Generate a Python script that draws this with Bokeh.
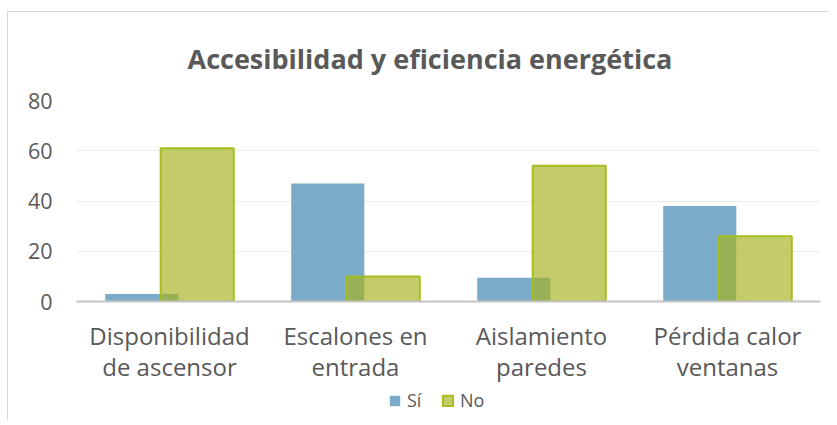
from bokeh.plotting import figure
from bokeh.layouts import column
from bokeh.models import FactorRange, Range1d, Legend, LegendItem, FixedTicker, Label
from bokeh.transform import dodge
from bokeh.embed import file_html
from bokeh.resources import INLINE

categories = ["Disponibilidad de ascensor", "Escalones en entrada", "Aislamiento paredes", "Pérdida calor ventanas"]
label_lines = ["Disponibilidad\nde ascensor", "Escalones en\nentrada", "Aislamiento\nparedes", "Pérdida calor\nventanas"]
si = [3, 47, 9.5, 38]
no = [61, 10, 54, 26]
y_ticks = [0, 20, 40, 60, 80]
series_names = ["Sí", "No"]
title_text = "Accesibilidad y eficiencia energética"

FONT = "Open Sans"
TXT = "#595959"
BLUE = "#7AABC8"
GREEN = "#A6B421"
GREEN_LINE = "#A5BE1E"


def strip(h):
    f = figure(width=829, height=h, x_range=Range1d(0, 1), y_range=Range1d(0, 1),
               output_backend="svg", toolbar_location=None,
               min_border_left=0, min_border_right=0, min_border_top=0, min_border_bottom=0)
    f.axis.visible = False
    f.grid.grid_line_color = None
    f.outline_line_color = None
    f.background_fill_alpha = 0
    f.border_fill_alpha = 0
    return f


# title strip
tf = strip(85)
tf.add_layout(Label(x=111, y=27, x_units="screen", y_units="screen", text=title_text,
                    text_font=FONT, text_font_size="27px", text_font_style="bold",
                    text_color=TXT, text_align="left", text_baseline="alphabetic"))

# main chart
p = figure(x_range=FactorRange(factors=label_lines), y_range=Range1d(0, 80),
           width=829, height=300, output_backend="svg", toolbar_location=None,
           min_border_left=76, min_border_right=9, min_border_top=15, min_border_bottom=82)

src = dict(cat=label_lines, name=categories, si=si, no=no)
p.vbar(x=dodge("cat", -0.149, range=p.x_range), top="si", width=0.393, source=src,
       fill_color=BLUE, line_color=None)
p.vbar(x=dodge("cat", 0.149, range=p.x_range), top="no", width=0.393, source=src,
       fill_color=GREEN, fill_alpha=0.68, line_color=GREEN_LINE, line_width=2)

p.outline_line_color = None
p.background_fill_color = "white"
p.border_fill_alpha = 0

p.xgrid.grid_line_color = None
p.ygrid.grid_line_color = "#EDEDED"
p.ygrid.grid_line_width = 1
p.yaxis.ticker = FixedTicker(ticks=y_ticks)
p.yaxis.axis_line_color = None
p.yaxis.major_tick_line_color = None
p.yaxis.minor_tick_line_color = None
p.yaxis.major_label_standoff = 18
p.yaxis.major_label_text_font = FONT
p.yaxis.major_label_text_font_size = "21.5px"
p.yaxis.major_label_text_color = TXT

p.xaxis.axis_line_color = "#C4C4C4"
p.xaxis.axis_line_width = 2
p.xaxis.major_tick_line_color = None
p.xaxis.minor_tick_line_color = None
p.xaxis.major_label_standoff = 11
p.xaxis.major_label_text_font = FONT
p.xaxis.major_label_text_font_size = "24px"
p.xaxis.major_label_text_color = TXT
p.xaxis.major_label_text_line_height = 0.95

# legend strip below the chart (hidden swatch renderers)
lf = strip(35)
d_si = lf.vbar(x=[0.5], top=[1], width=0.1, fill_color=BLUE, line_color=None, visible=False)
d_no = lf.vbar(x=[0.5], top=[1], width=0.1, fill_color=GREEN, fill_alpha=0.68,
               line_color=GREEN_LINE, line_width=2, visible=False)

legend = Legend(items=[LegendItem(label=series_names[0], renderers=[d_si]),
                       LegendItem(label=series_names[1], renderers=[d_no])],
                orientation="horizontal", location=(312, 8))
legend.label_text_font = FONT
legend.label_text_font_size = "18px"
legend.label_text_color = TXT
legend.glyph_width = 13
legend.glyph_height = 13
legend.label_standoff = 6
legend.spacing = 14
legend.padding = 0
legend.margin = 0
legend.border_line_color = None
legend.background_fill_alpha = 0
legend.inactive_fill_alpha = 0
lf.add_layout(legend, "center")

layout = column(tf, p, lf, spacing=0, styles={
    "background": "linear-gradient(#D9D9D9,#D9D9D9) no-repeat 7px 11px / 1px 100%, "
                  "linear-gradient(#D9D9D9,#D9D9D9) no-repeat 7px 11px / 100% 1px"})

open("out.html", "w").write(file_html(layout, INLINE))
